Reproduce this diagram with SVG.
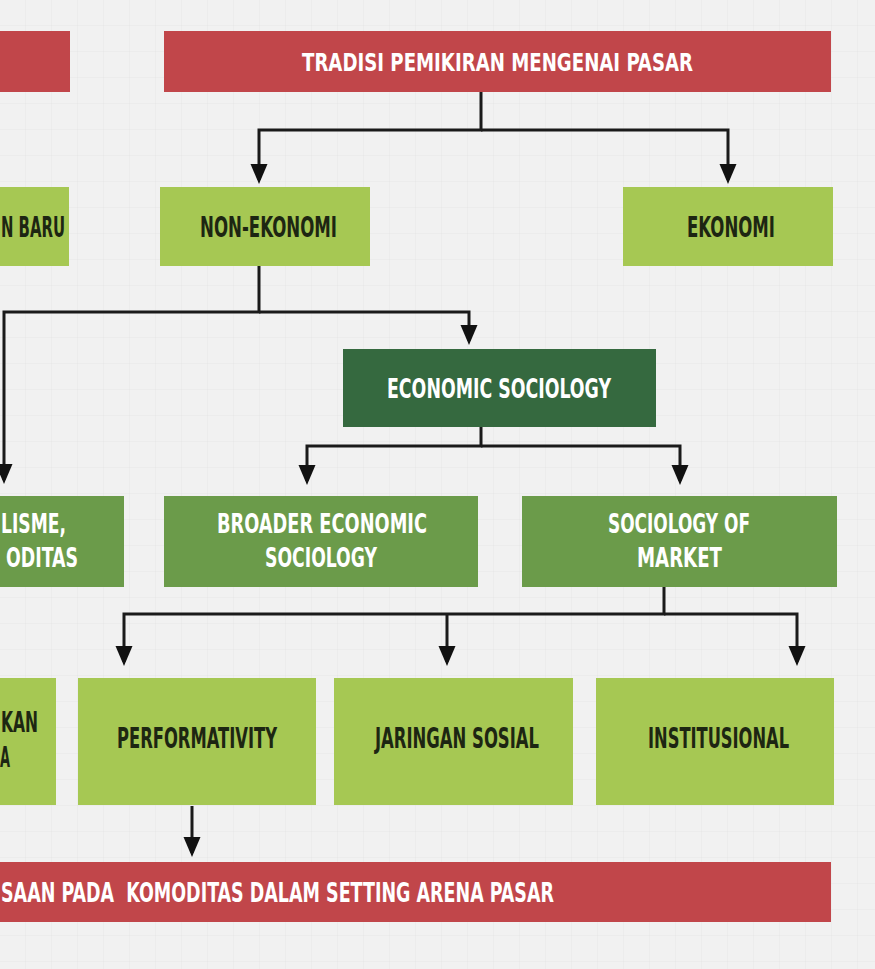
<svg xmlns="http://www.w3.org/2000/svg" width="875" height="969" viewBox="0 0 875 969">
<defs>
<style>
.red{fill:#c1464a}
.lg{fill:#a6c853}
.mg{fill:#6b9b4a}
.dg{fill:#35693f}
.tw{font-family:"DejaVu Sans Condensed","DejaVu Sans","Liberation Sans",sans-serif;font-weight:bold;fill:#ffffff}
.tb{font-family:"DejaVu Sans Condensed","DejaVu Sans","Liberation Sans",sans-serif;font-weight:bold;fill:#1d2612}
.conn{fill:none;stroke:#1a1a1a;stroke-width:3}
</style>
<pattern id="grid" width="26" height="26" patternUnits="userSpaceOnUse">
<path d="M26,0 V26 M0,26 H26" fill="none" stroke="#e6e6e6" stroke-width="1"/>
</pattern>
<marker id="arr" markerUnits="userSpaceOnUse" markerWidth="22" markerHeight="18" viewBox="0 0 22 18" refX="16" refY="9" orient="auto">
<path d="M0,0.5 L20,9 L0,17.5 Z" fill="#111"/>
</marker>
</defs>
<rect width="875" height="969" fill="#f1f1f1"/>
<rect width="875" height="969" fill="url(#grid)"/>

<g id="connectors">
<path class="conn" d="M481,92 V130 H259 V180" marker-end="url(#arr)"/>
<path class="conn" d="M481,130 H728 V180" marker-end="url(#arr)"/>
<path class="conn" d="M259,266 V312 H4 V480" marker-end="url(#arr)"/>
<path class="conn" d="M259,312 H469 V341" marker-end="url(#arr)"/>
<path class="conn" d="M481,427 V446 H307 V481" marker-end="url(#arr)"/>
<path class="conn" d="M481,446 H680 V481" marker-end="url(#arr)"/>
<path class="conn" d="M664,587 V614 H124 V662" marker-end="url(#arr)"/>
<path class="conn" d="M447,614 V662" marker-end="url(#arr)"/>
<path class="conn" d="M664,614 H797 V662" marker-end="url(#arr)"/>
<path class="conn" d="M192,806 V853" marker-end="url(#arr)"/>
</g>

<g id="top-left">
<rect class="red" x="-5" y="31" width="75" height="61"/>
</g>
<g id="tradisi">
<rect class="red" x="164" y="31" width="667" height="61"/>
<text class="tw" x="302" y="71" font-size="25" textLength="391" lengthAdjust="spacingAndGlyphs">TRADISI PEMIKIRAN MENGENAI PASAR</text>
</g>

<g id="pemikiran-baru">
<rect class="lg" x="-5" y="187" width="74" height="79"/>
<text class="tb" x="1" y="237" font-size="29" textLength="64" lengthAdjust="spacingAndGlyphs">N BARU</text>
</g>
<g id="non-ekonomi">
<rect class="lg" x="160" y="187" width="210" height="79"/>
<text class="tb" x="200" y="237" font-size="29" textLength="137" lengthAdjust="spacingAndGlyphs">NON-EKONOMI</text>
</g>
<g id="ekonomi">
<rect class="lg" x="623" y="187" width="210" height="79"/>
<text class="tb" x="687" y="237" font-size="29" textLength="88" lengthAdjust="spacingAndGlyphs">EKONOMI</text>
</g>

<g id="economic-sociology">
<rect class="dg" x="343" y="349" width="313" height="78"/>
<text class="tw" x="387" y="398" font-size="27" textLength="224" lengthAdjust="spacingAndGlyphs">ECONOMIC SOCIOLOGY</text>
</g>

<g id="kapitalisme">
<rect class="mg" x="-5" y="496" width="129" height="91"/>
<text class="tw" x="1" y="533" font-size="27" textLength="65" lengthAdjust="spacingAndGlyphs">LISME,</text>
<text class="tw" x="6" y="567" font-size="27" textLength="72" lengthAdjust="spacingAndGlyphs">ODITAS</text>
</g>
<g id="broader">
<rect class="mg" x="164" y="496" width="314" height="91"/>
<text class="tw" x="217" y="533" font-size="27" textLength="210" lengthAdjust="spacingAndGlyphs">BROADER ECONOMIC</text>
<text class="tw" x="265" y="567" font-size="27" textLength="112" lengthAdjust="spacingAndGlyphs">SOCIOLOGY</text>
</g>
<g id="sociology-of-market">
<rect class="mg" x="522" y="496" width="315" height="91"/>
<text class="tw" x="608" y="533" font-size="27" textLength="142" lengthAdjust="spacingAndGlyphs">SOCIOLOGY OF</text>
<text class="tw" x="637" y="567" font-size="27" textLength="85" lengthAdjust="spacingAndGlyphs">MARKET</text>
</g>

<g id="left-bottom">
<rect class="lg" x="-5" y="678" width="61" height="127"/>
<text class="tb" x="1" y="732" font-size="29" textLength="37" lengthAdjust="spacingAndGlyphs">KAN</text>
<text class="tb" x="0" y="767" font-size="29" textLength="10" lengthAdjust="spacingAndGlyphs">A</text>
</g>
<g id="performativity">
<rect class="lg" x="78" y="678" width="238" height="127"/>
<text class="tb" x="117" y="748" font-size="29" textLength="160" lengthAdjust="spacingAndGlyphs">PERFORMATIVITY</text>
</g>
<g id="jaringan-sosial">
<rect class="lg" x="334" y="678" width="239" height="127"/>
<text class="tb" x="375" y="748" font-size="29" textLength="164" lengthAdjust="spacingAndGlyphs">JARINGAN SOSIAL</text>
</g>
<g id="institusional">
<rect class="lg" x="596" y="678" width="238" height="127"/>
<text class="tb" x="648" y="748" font-size="29" textLength="141" lengthAdjust="spacingAndGlyphs">INSTITUSIONAL</text>
</g>

<g id="bottom">
<rect class="red" x="-5" y="862" width="836" height="60"/>
<text class="tw" x="1" y="902" font-size="26" textLength="553" lengthAdjust="spacingAndGlyphs" xml:space="preserve">SAAN PADA  KOMODITAS DALAM SETTING ARENA PASAR</text>
</g>
</svg>
